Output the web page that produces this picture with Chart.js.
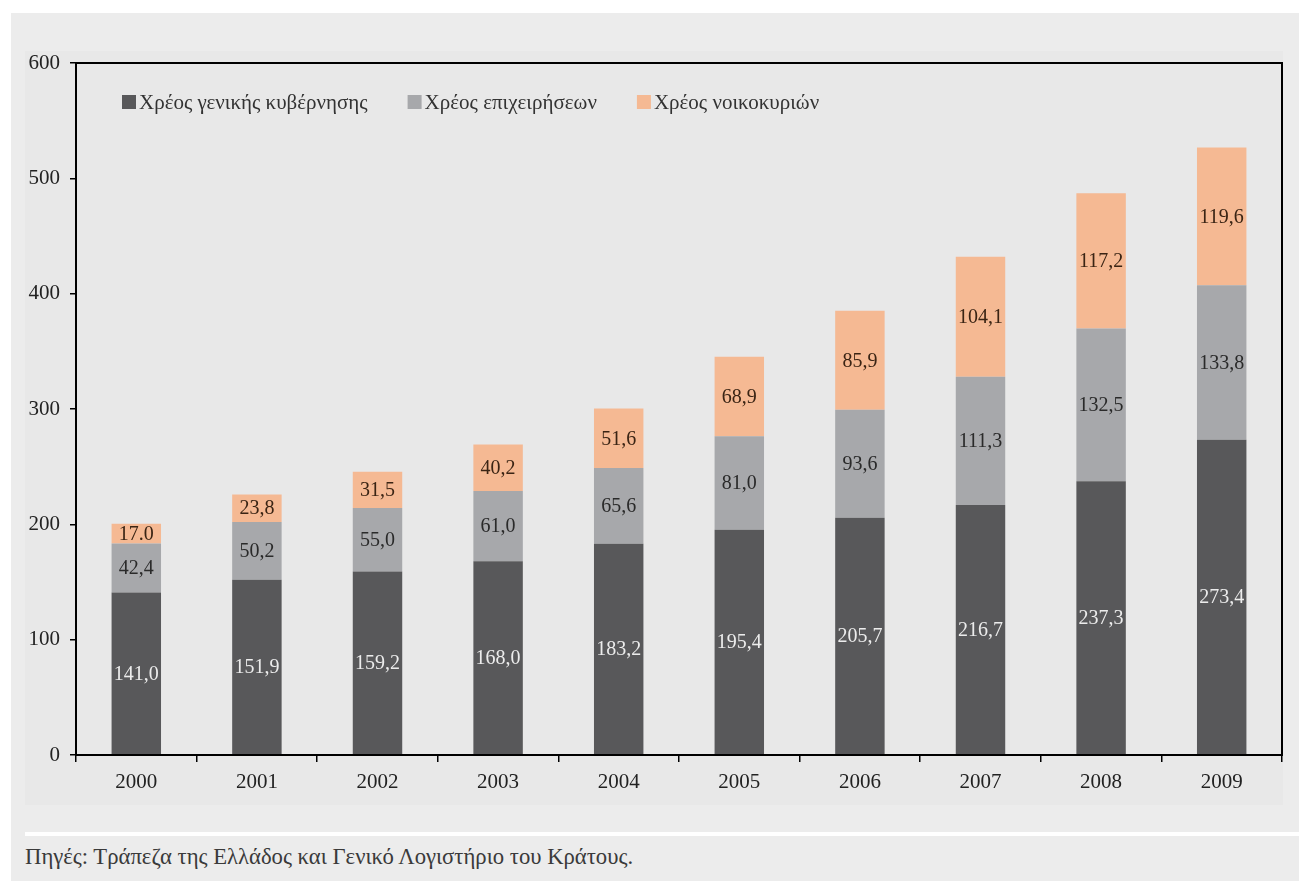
<!DOCTYPE html>
<html lang="el">
<head>
<meta charset="utf-8">
<title>Χρέος</title>
<script src="https://cdn.jsdelivr.net/npm/chart.js@4.4.1/dist/chart.umd.min.js"></script>
<style>
  html, body { margin: 0; padding: 0; background: #fff; }
  body { width: 1299px; height: 881px; position: relative; overflow: hidden; font-family: "Liberation Serif", "DejaVu Serif", serif; }
  .panel { position: absolute; left: 11px; top: 13px; right: 0; bottom: 0; background: #ececec; }
  .inner { position: absolute; left: 25px; top: 51px; width: 1258px; height: 754px; background: #e8e8e8; }
  .rule { position: absolute; left: 25px; right: 0; top: 832px; height: 4px; background: #fff; }
  .source { position: absolute; left: 25px; top: 844px; font-size: 22.7px; line-height: 26px; color: #3a3a3a; }
  #debtChart { position: absolute; left: 0; top: 0; }
</style>
</head>
<body>
<div class="panel"></div>
<div class="inner"></div>
<canvas id="debtChart" width="1299" height="820"></canvas>
<div class="rule"></div>
<div class="source">Πηγές: Τράπεζα της Ελλάδος και Γενικό Λογιστήριο του Κράτους.</div>

<script>
const years = ["2000","2001","2002","2003","2004","2005","2006","2007","2008","2009"];
const governmentDebt = [141.0,151.9,159.2,168.0,183.2,195.4,205.7,216.7,237.3,273.4];
const businessDebt   = [42.4,50.2,55.0,61.0,65.6,81.0,93.6,111.3,132.5,133.8];
const householdDebt  = [17.0,23.8,31.5,40.2,51.6,68.9,85.9,104.1,117.2,119.6];
const yTicks = [0,100,200,300,400,500,600];
// the 2000 household label is printed with a point in the original
const pointLabels = [[2, 0]];

const FONT = "'Liberation Serif', 'DejaVu Serif', serif";

function labelText(v, ds, i) {
  const s = v.toFixed(1);
  const dot = pointLabels.some(p => p[0] === ds && p[1] === i);
  return dot ? s : s.replace(".", ",");
}

/* etiquetas dentro de cada segmento */
const segmentLabels = {
  id: "segmentLabels",
  afterDatasetsDraw(chart) {
    const ctx = chart.ctx;
    ctx.save();
    ctx.font = "20px " + FONT;
    ctx.textAlign = "center";
    ctx.textBaseline = "middle";
    chart.data.datasets.forEach((ds, d) => {
      chart.getDatasetMeta(d).data.forEach((bar, i) => {
        ctx.fillStyle = ds.labelColor;
        ctx.fillText(labelText(ds.data[i], d, i), bar.x, (bar.y + bar.base) / 2 + 1);
      });
    });
    ctx.restore();
  }
};

/* leyenda dentro del área del gráfico */
const innerLegend = {
  id: "innerLegend",
  afterDraw(chart) {
    const ctx = chart.ctx;
    const area = chart.chartArea;
    let x = area.left + 46;
    const y = area.top + 39;
    ctx.save();
    ctx.font = "21px " + FONT;
    ctx.textBaseline = "middle";
    chart.data.datasets.forEach(ds => {
      ctx.fillStyle = ds.backgroundColor;
      ctx.fillRect(x, y - 7, 14, 14);
      ctx.fillStyle = "#333";
      ctx.fillText(ds.label, x + 17, y + 1);
      x += 17 + ctx.measureText(ds.label).width + 40;
    });
    ctx.restore();
  }
};

/* marco negro */
const frame = {
  id: "frame",
  afterDraw(chart) {
    const a = chart.chartArea;
    const ctx = chart.ctx;
    ctx.save();
    ctx.strokeStyle = "#000";
    ctx.lineWidth = 2;
    ctx.strokeRect(a.left, a.top, a.right - a.left, a.bottom - a.top);
    ctx.restore();
  }
};

new Chart(document.getElementById("debtChart"), {
  type: "bar",
  data: {
    labels: years,
    datasets: [
      { label: "Χρέος γενικής κυβέρνησης", data: governmentDebt, backgroundColor: "#58585a", labelColor: "#ececec" },
      { label: "Χρέος επιχειρήσεων", data: businessDebt, backgroundColor: "#a7a8ab", labelColor: "#2a2a2a" },
      { label: "Χρέος νοικοκυριών", data: householdDebt, backgroundColor: "#f5b993", labelColor: "#3a2414" }
    ]
  },
  options: {
    responsive: false,
    animation: false,
    events: [],
    barPercentage: 0.41,
    categoryPercentage: 1,
    layout: { padding: { left: 20, top: 63, right: 17, bottom: 25 } },
    plugins: {
      legend: { display: false },
      tooltip: { enabled: false }
    },
    scales: {
      x: {
        stacked: true,
        grid: { drawOnChartArea: false, color: "#000", lineWidth: 1.5, tickLength: 7, offset: true },
        border: { color: "#000", width: 2 },
        ticks: { color: "#222", font: { family: FONT, size: 21 }, padding: 8 },
        afterFit(scale) { scale.height = 40; }
      },
      y: {
        stacked: true,
        min: 0,
        max: 600,
        afterBuildTicks(scale) { scale.ticks = yTicks.map(v => ({ value: v })); },
        grid: { drawOnChartArea: false, color: "#000", lineWidth: 1.5, tickLength: 6 },
        border: { color: "#000", width: 2 },
        ticks: { color: "#222", font: { family: FONT, size: 21 }, padding: 10 },
        afterFit(scale) { scale.width = 56; }
      }
    }
  },
  plugins: [segmentLabels, innerLegend, frame]
});
</script>
</body>
</html>
